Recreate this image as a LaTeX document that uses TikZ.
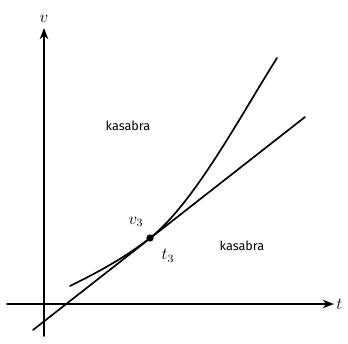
\documentclass[tikz,border=0pt]{standalone}
\usepackage{fontspec}
\setsansfont{Fira Sans}
\usetikzlibrary{arrows.meta}
\begin{document}
\begin{tikzpicture}[>={Stealth[length=8pt,width=6pt]},line join=round,line cap=round,line width=1.2pt]
            \useasboundingbox (-1.1,-0.975) rectangle (7.6,7.6);
            \coordinate (O) at (0,0);
            \coordinate (P) at (2.65,1.65);
            \draw[->] (-0.925,0)--(7.25,0)node[right,inner sep=1pt,font=\large]{$t$};
            \draw[->] (0,-0.8)--(0,6.9)node[above,inner sep=3pt,font=\large]{$v$};
            \draw (-0.275,-0.65)coordinate(A)--(6.525,4.675)coordinate(B);
            \draw (0.65,0.45)coordinate(C) .. controls (1.3,0.77) and (2.0,1.14) .. (P)
                  .. controls (3.75,2.51) and (4.925,4.73) .. (5.825,6.15)coordinate(D);
            \fill (P)circle(2.6pt);
            \node[font=\large] at (2.3,2.05) {$v_3$};
            \node[font=\large] at (3.1,1.2) {$t_3$};
            \foreach \vitri in {(2.1,4.45),(4.95,1.45)} \node[font=\sffamily\small] at \vitri {kasabra};
    \end{tikzpicture}
\end{document}
